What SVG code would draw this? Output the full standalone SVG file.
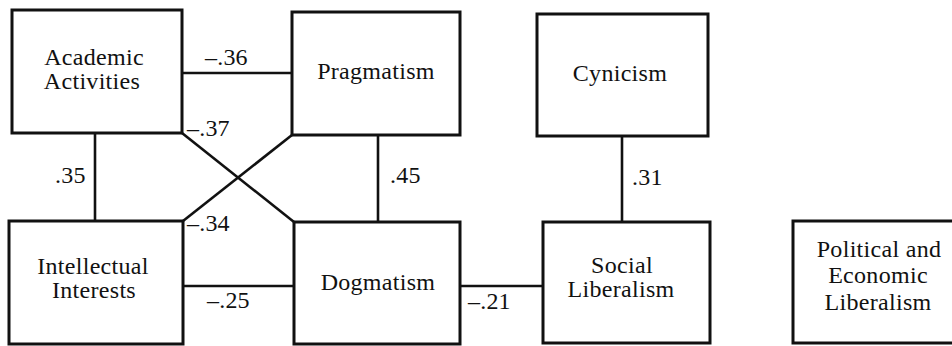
<svg xmlns="http://www.w3.org/2000/svg" width="952" height="346" viewBox="0 0 952 346">
<style>
text{font-family:"Liberation Serif","Times New Roman",serif;font-size:24px;fill:#111}
.lbl{text-anchor:middle;letter-spacing:0.3px}
.num{letter-spacing:0.2px}
.box{fill:#fff;stroke:#111;stroke-width:3}
.edge{stroke:#111;stroke-width:2.6;fill:none}
</style>
<rect width="952" height="346" fill="#fff"/>
<g id="connectors">
<line class="edge" x1="182" y1="73" x2="292" y2="73"/>
<line class="edge" x1="182" y1="133" x2="294" y2="222"/>
<line class="edge" x1="292" y1="135" x2="183" y2="221"/>
<line class="edge" x1="95" y1="133" x2="95" y2="221"/>
<line class="edge" x1="378" y1="135" x2="378" y2="222"/>
<line class="edge" x1="622" y1="136" x2="622" y2="222"/>
<line class="edge" x1="183" y1="286" x2="294" y2="286"/>
<line class="edge" x1="460" y1="286" x2="543" y2="286"/>
<text class="num" x="205" y="65">–.36</text>
<text class="num" x="187" y="136">–.37</text>
<text class="num" x="55" y="183">.35</text>
<text class="num" x="187" y="231">–.34</text>
<text class="num" x="390" y="183">.45</text>
<text class="num" x="632" y="185">.31</text>
<text class="num" x="207" y="308">–.25</text>
<text class="num" x="468" y="309">–.21</text>
</g>
<g id="academic">
<rect class="box" x="12" y="10" width="170" height="123"/>
<text class="lbl" x="94" y="65">Academic</text>
<text class="lbl" x="92" y="89">Activities</text>
</g>
<g id="pragmatism">
<rect class="box" x="292" y="12" width="168" height="123"/>
<text class="lbl" x="376" y="79">Pragmatism</text>
</g>
<g id="cynicism">
<rect class="box" x="537" y="14" width="171" height="122"/>
<text class="lbl" x="620" y="81">Cynicism</text>
</g>
<g id="intellectual">
<rect class="box" x="9" y="221" width="174" height="123"/>
<text class="lbl" x="93" y="274">Intellectual</text>
<text class="lbl" x="94" y="298">Interests</text>
</g>
<g id="dogmatism">
<rect class="box" x="294" y="222" width="166" height="122"/>
<text class="lbl" x="378" y="290">Dogmatism</text>
</g>
<g id="social">
<rect class="box" x="543" y="222" width="167" height="121"/>
<text class="lbl" x="622" y="273">Social</text>
<text class="lbl" x="621" y="297">Liberalism</text>
</g>
<g id="political">
<rect class="box" x="793" y="221" width="170" height="122"/>
<text class="lbl" x="879" y="257">Political and</text>
<text class="lbl" x="878" y="283">Economic</text>
<text class="lbl" x="878" y="310">Liberalism</text>
</g>
</svg>
